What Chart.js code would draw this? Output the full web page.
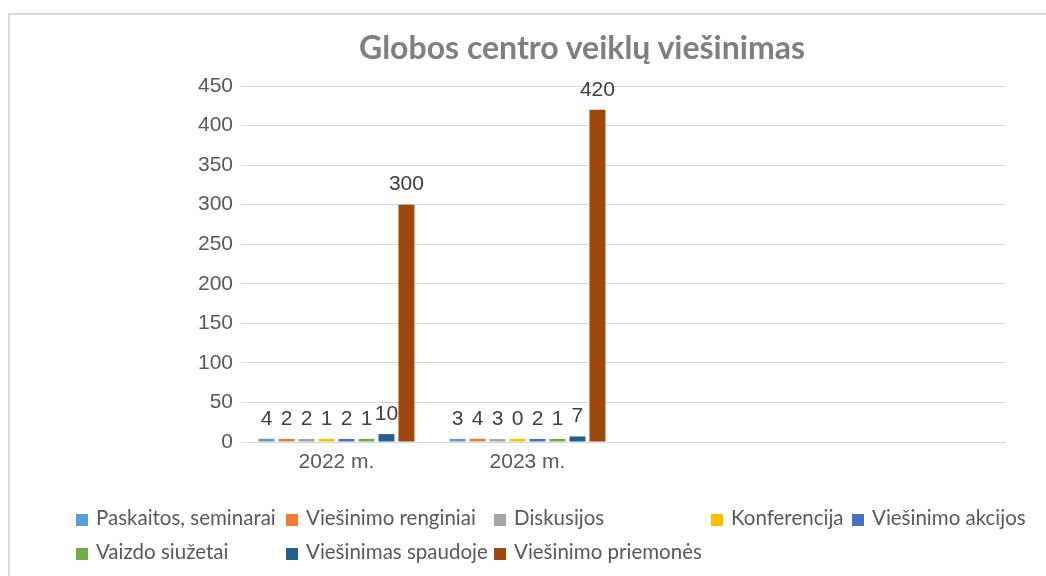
<!DOCTYPE html>
<html>
<head>
<meta charset="utf-8">
<script src="https://cdn.jsdelivr.net/npm/chart.js@4.4.0/dist/chart.umd.min.js"></script>
<style>
  body { margin: 0; background: #fff; }
  #wrap { position: relative; width: 1046px; height: 576px; overflow: hidden; }
  #frame { position: absolute; left: 8px; top: 13px; width: 1100px; height: 620px; border: 2px solid #d9d9d9; box-sizing: border-box; }
  #title { position: absolute; left: 582px; top: 27px; transform: translateX(-50%); white-space: nowrap;
           font-family: Lato, sans-serif; font-weight: bold; font-size: 32px; color: #7f7f7f; }
  #myChart { position: absolute; left: 0; top: 0; }
  .lg { position: absolute; font-family: Lato, sans-serif; font-size: 20.5px; color: #595959; white-space: nowrap; line-height: 22px; }
  .lg i { display: inline-block; width: 12px; height: 12px; margin-right: 8px; vertical-align: -1px; }
</style>
</head>
<body>
<div id="wrap">
  <div id="frame"></div>
  <canvas id="myChart" width="1046" height="576"></canvas>
  <div id="title">Globos centro veiklų viešinimas</div>
  <div id="legend"></div>
</div>
<script>
const categories = ['2022 m.', '2023 m.', '', ''];
const seriesNames = ['Paskaitos, seminarai', 'Viešinimo renginiai', 'Diskusijos', 'Konferencija',
                     'Viešinimo akcijos', 'Vaizdo siužetai', 'Viešinimas spaudoje', 'Viešinimo priemonės'];
const paskaitos = [4, 3];
const renginiai = [2, 4];
const diskusijos = [2, 3];
const konferencija = [1, 0];
const akcijos = [2, 2];
const siuzetai = [1, 1];
const spaudoje = [10, 7];
const priemones = [300, 420];
const yTicks = [0, 50, 100, 150, 200, 250, 300, 350, 400, 450];

const seriesValues = [paskaitos, renginiai, diskusijos, konferencija, akcijos, siuzetai, spaudoje, priemones];
const colors = ['#5B9BD5', '#ED7D31', '#A5A5A5', '#FFC000', '#4472C4', '#70AD47', '#255E91', '#9E480E'];

// legend laid out like the Excel one (two rows, uneven columns)
const legendSlots = [[76, 517], [286, 517], [494, 517], [711, 517], [852, 517], [76, 551], [286, 551], [494, 551]];
const legendDiv = document.getElementById('legend');
seriesNames.forEach((name, i) => {
    const el = document.createElement('div');
    el.className = 'lg';
    el.style.left = legendSlots[i][0] + 'px';
    el.style.top = (legendSlots[i][1] - 11) + 'px';
    el.innerHTML = '<i style="background:' + colors[i] + '"></i>' + name;
    legendDiv.appendChild(el);
});

const valueLabels = {
    id: 'valueLabels',
    afterDatasetsDraw(chart) {
        const ctx = chart.ctx;
        ctx.save();
        ctx.font = '21px "Liberation Sans", Arial, sans-serif';
        ctx.fillStyle = '#404040';
        ctx.textAlign = 'center';
        ctx.textBaseline = 'middle';
        chart.data.datasets.forEach((ds, i) => {
            chart.getDatasetMeta(i).data.forEach((bar, j) => {
                if (ds.data[j] === undefined || ds.data[j] === null) return;
                ctx.fillText(ds.data[j], bar.x, bar.y - 20);
            });
        });
        ctx.restore();
    }
};

const ctx = document.getElementById('myChart').getContext('2d');
new Chart(ctx, {
    type: 'bar',
    data: {
        labels: categories,
        datasets: seriesNames.map((name, i) => ({
            label: name,
            data: seriesValues[i],
            backgroundColor: colors[i],
            borderWidth: 0,
            minBarLength: 3,
            categoryPercentage: 0.837,
            barPercentage: 0.8
        }))
    },
    options: {
        responsive: false,
        animation: false,
        devicePixelRatio: 1,
        layout: { padding: { top: 86, right: 41, left: 0, bottom: 0 } },
        plugins: {
            legend: { display: false },
            title: { display: false },
            tooltip: { enabled: false }
        },
        scales: {
            x: {
                grid: { display: false, drawTicks: false },
                border: { display: true, color: '#d9d9d9', width: 1 },
                ticks: {
                    color: '#595959',
                    font: { family: '"Liberation Sans", Arial, sans-serif', size: 21 },
                    padding: 8,
                    maxRotation: 0
                },
                afterFit(scale) { scale.height = 134; }
            },
            y: {
                min: 0,
                max: 450,
                afterBuildTicks(scale) { scale.ticks = yTicks.map(v => ({ value: v })); },
                grid: { color: '#d9d9d9', lineWidth: 1, drawTicks: false },
                border: { display: false },
                ticks: {
                    color: '#595959',
                    font: { family: '"Liberation Sans", Arial, sans-serif', size: 21 },
                    padding: 8
                },
                afterFit(scale) { scale.width = 241; }
            }
        }
    },
    plugins: [valueLabels]
});
</script>
</body>
</html>
